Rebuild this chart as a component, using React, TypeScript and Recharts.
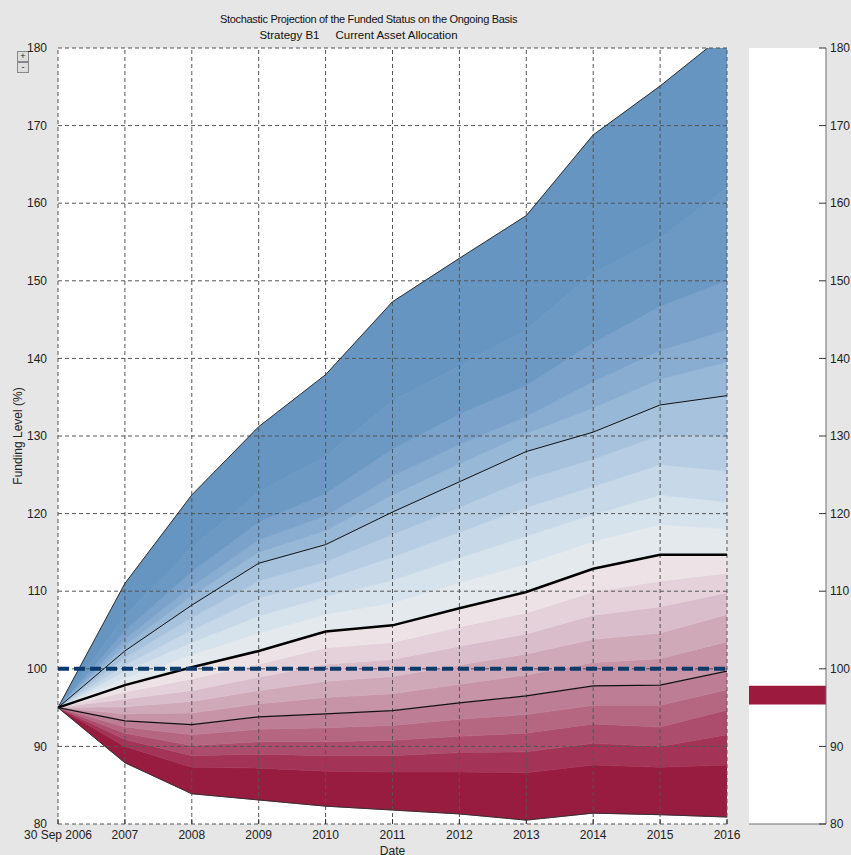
import React from 'react';
import {
  ComposedChart,
  Area,
  Line,
  Bar,
  XAxis,
  YAxis,
  ReferenceLine,
  CartesianGrid,
} from 'recharts';

// ---- categories / tick labels ----
const xLabels = ['30 Sep 2006', '2007', '2008', '2009', '2010', '2011', '2012', '2013', '2014', '2015', '2016'];
const xTicks = [0, 1, 2, 3, 4, 5, 6, 7, 8, 9, 10];
const yTicks = [80, 90, 100, 110, 120, 130, 140, 150, 160, 170, 180];

// ---- percentile curves of the funding level (%) ----
const p99 = [95, 111.0, 122.4, 131.2, 137.9, 147.3, 152.9, 158.4, 168.8, 175.1, 182.0];
const p95 = [95, 106.8, 115.6, 122.8, 127.4, 134.5, 139.0, 143.7, 151.0, 155.5, 162.0];
const p90 = [95, 104.9, 112.5, 118.9, 122.6, 128.3, 132.8, 136.5, 142.0, 146.7, 150.0];
const p85 = [95, 103.8, 110.6, 116.6, 119.7, 124.8, 128.9, 132.5, 137.0, 141.0, 143.7];
const p80 = [95, 103.0, 109.4, 115.0, 117.8, 122.4, 126.4, 130.3, 133.6, 137.3, 139.5];
const p75 = [95, 102.3, 108.2, 113.6, 116.0, 120.2, 124.1, 128.0, 130.5, 134.0, 135.2];
const p70 = [95, 101.4, 106.6, 111.3, 113.8, 117.3, 120.8, 124.4, 127.0, 130.1, 130.0];
const p65 = [95, 100.5, 105.0, 109.1, 111.5, 114.4, 117.6, 120.8, 123.5, 126.3, 125.5];
const p60 = [95, 99.7, 103.4, 106.8, 109.3, 111.4, 114.3, 117.1, 119.9, 122.4, 121.5];
const p55 = [95, 98.8, 101.8, 104.6, 107.0, 108.5, 111.1, 113.5, 116.4, 118.6, 118.0];
const p50 = [95, 97.9, 100.2, 102.3, 104.8, 105.6, 107.8, 109.9, 112.9, 114.7, 114.7];
const p45 = [95, 97.0, 98.7, 100.6, 102.7, 103.4, 105.4, 107.2, 109.9, 111.3, 112.3];
const p40 = [95, 96.1, 97.2, 98.9, 100.6, 101.2, 102.9, 104.5, 106.9, 108.0, 109.8];
const p35 = [95, 95.1, 95.8, 97.2, 98.4, 99.0, 100.5, 101.9, 103.8, 104.6, 107.0];
const p30 = [95, 94.2, 94.3, 95.5, 96.3, 96.8, 98.0, 99.2, 100.8, 101.3, 103.5];
const p25 = [95, 93.3, 92.8, 93.8, 94.2, 94.6, 95.6, 96.5, 97.8, 97.9, 99.7];
const p20 = [95, 92.5, 91.5, 92.2, 92.4, 92.7, 93.5, 94.1, 95.3, 95.3, 97.3];
const p15 = [95, 91.7, 90.1, 90.6, 90.6, 90.8, 91.3, 91.7, 92.9, 92.5, 94.7];
const p10 = [95, 90.9, 88.8, 89.0, 88.8, 88.8, 89.2, 89.3, 90.4, 90.0, 91.5];
const p05 = [95, 90.0, 87.3, 87.2, 86.8, 86.7, 86.7, 86.6, 87.6, 87.3, 87.6];
const p01 = [95, 87.9, 83.9, 83.1, 82.3, 81.8, 81.3, 80.5, 81.4, 81.2, 80.9];

const targetLevel = 100;
const currentLevel = [95.4, 97.8];

// bottom -> top
const curves = [p01, p05, p10, p15, p20, p25, p30, p35, p40, p45, p50, p55, p60, p65, p70, p75, p80, p85, p90, p95, p99];
const bandColors = [
  '#981b40', '#a33457', '#ad4d6d', '#b56681', '#bd7d94', '#c693a7', '#d0a9b9', '#dabdca', '#e4d1da', '#ede2e6',
  '#e4e9ee', '#d6e2ec', '#c7d8e8', '#b7cde3', '#a7c2dd', '#98b8d7', '#89add1', '#7aa2cb', '#6c98c4', '#6595c0',
];

const data = xLabels.map((label, i) => {
  const row: any = { x: i, label };
  curves.forEach((c, k) => {
    row['c' + k] = c[i];
  });
  return row;
});

const panelData = [{ name: 'current', level: currentLevel }];

const FONT = '"Liberation Sans", Arial, sans-serif';
const tickStyle = { fontSize: 12, fill: '#222', fontFamily: FONT };

export default function App() {
  return (
    <div
      style={{
        position: 'absolute',
        left: 0,
        top: 0,
        width: 851,
        height: 855,
        background: '#e6e6e6',
        overflow: 'hidden',
        fontFamily: FONT,
      }}
    >
      <div style={{ position: 'absolute', left: 0, width: 737, top: 13, textAlign: 'center', fontSize: 11, letterSpacing: '-0.3px', color: '#111', whiteSpace: 'pre' }}>
        Stochastic Projection of the Funded Status on the Ongoing Basis
      </div>
      <div style={{ position: 'absolute', left: 0, width: 717, top: 29, textAlign: 'center', fontSize: 11.5, color: '#111', whiteSpace: 'pre' }}>
        {'Strategy B1     Current Asset Allocation'}
      </div>
      <div style={{ position: 'absolute', left: 17, top: 51, width: 10, height: 9, border: '1px solid #888', background: '#ddd', fontSize: 9, lineHeight: '9px', textAlign: 'center', color: '#222' }}>+</div>
      <div style={{ position: 'absolute', left: 17, top: 62, width: 10, height: 9, border: '1px solid #888', background: '#ddd', fontSize: 9, lineHeight: '9px', textAlign: 'center', color: '#222' }}>-</div>

      <div style={{ position: 'absolute', left: 0, top: 0 }}>
        <ComposedChart width={851} height={855} data={data} margin={{ top: 48, right: 124, bottom: 0, left: 0 }}>
          <CartesianGrid fill="#ffffff" horizontal={false} vertical={false} stroke="none" />
          <XAxis
            dataKey="x"
            type="number"
            domain={[0, 10]}
            ticks={xTicks}
            tickFormatter={(v: number) => xLabels[v]}
            height={31}
            interval={0}
            axisLine={false}
            tickSize={-5}
            tickMargin={11}
            tickLine={{ stroke: '#333' }}
            tick={tickStyle}
            label={{ value: 'Date', position: 'insideBottom', offset: 0, style: { fontSize: 12, fill: '#222', fontFamily: FONT } }}
          />
          <YAxis
            type="number"
            domain={[80, 180]}
            ticks={yTicks}
            allowDataOverflow
            width={58}
            interval={0}
            axisLine={false}
            tickLine={false}
            tickMargin={5}
            tick={tickStyle}
            label={{
              value: 'Funding Level (%)',
              angle: -90,
              position: 'insideLeft',
              offset: 18,
              style: { textAnchor: 'middle', fontSize: 12, fill: '#222', fontFamily: FONT },
            }}
          />
          {bandColors.map((color, k) => (
            <Area
              key={'band' + k}
              type="linear"
              dataKey={(d: any) => [d['c' + k], d['c' + (k + 1)]]}
              fill={color}
              fillOpacity={1}
              stroke={color}
              strokeWidth={0.6}
              dot={false}
              activeDot={false}
              isAnimationActive={false}
            />
          ))}
          {yTicks.map((t) => (
            <ReferenceLine key={'gy' + t} y={t} stroke="#555" strokeDasharray="4 3" strokeWidth={1} />
          ))}
          {xTicks.map((t) => (
            <ReferenceLine key={'gx' + t} x={t} stroke="#555" strokeDasharray="4 3" strokeWidth={1} />
          ))}
          <Line type="linear" dataKey="c20" stroke="#333" strokeWidth={1} dot={false} activeDot={false} isAnimationActive={false} />
          <Line type="linear" dataKey="c15" stroke="#111" strokeWidth={1} dot={false} activeDot={false} isAnimationActive={false} />
          <Line type="linear" dataKey="c10" stroke="#000" strokeWidth={2.5} dot={false} activeDot={false} isAnimationActive={false} />
          <Line type="linear" dataKey="c5" stroke="#111" strokeWidth={1.2} dot={false} activeDot={false} isAnimationActive={false} />
          <Line type="linear" dataKey="c0" stroke="#333" strokeWidth={1} dot={false} activeDot={false} isAnimationActive={false} />
          <ReferenceLine y={targetLevel} stroke="#0b3a6f" strokeWidth={4} strokeDasharray="11 5" />
        </ComposedChart>
      </div>

      <div style={{ position: 'absolute', left: 749, top: 0 }}>
        <ComposedChart width={102} height={855} data={panelData} margin={{ top: 48, right: 0, bottom: 31, left: 0 }} barCategoryGap={0}>
          <CartesianGrid fill="#ffffff" horizontal={false} vertical={false} stroke="none" />
          <XAxis dataKey="name" hide />
          <YAxis
            yAxisId="r"
            orientation="right"
            type="number"
            domain={[80, 180]}
            ticks={yTicks}
            allowDataOverflow
            width={25}
            interval={0}
            axisLine={{ stroke: '#6e6e6e' }}
            tickLine={{ stroke: '#333' }}
            tickSize={-7}
            tickMargin={11}
            tick={tickStyle}
          />
          <YAxis
            yAxisId="l"
            orientation="left"
            type="number"
            domain={[80, 180]}
            ticks={yTicks}
            width={0}
            interval={0}
            axisLine={{ stroke: '#a9c6e3', strokeWidth: 2 }}
            tickLine={{ stroke: '#333' }}
            tickSize={-7}
            tickFormatter={() => ''}
          />
          <ReferenceLine yAxisId="r" y={80} stroke="#6e6e6e" strokeWidth={1} />
          <Bar yAxisId="r" dataKey="level" fill="#9b1a3d" isAnimationActive={false} />
        </ComposedChart>
      </div>
    </div>
  );
}
